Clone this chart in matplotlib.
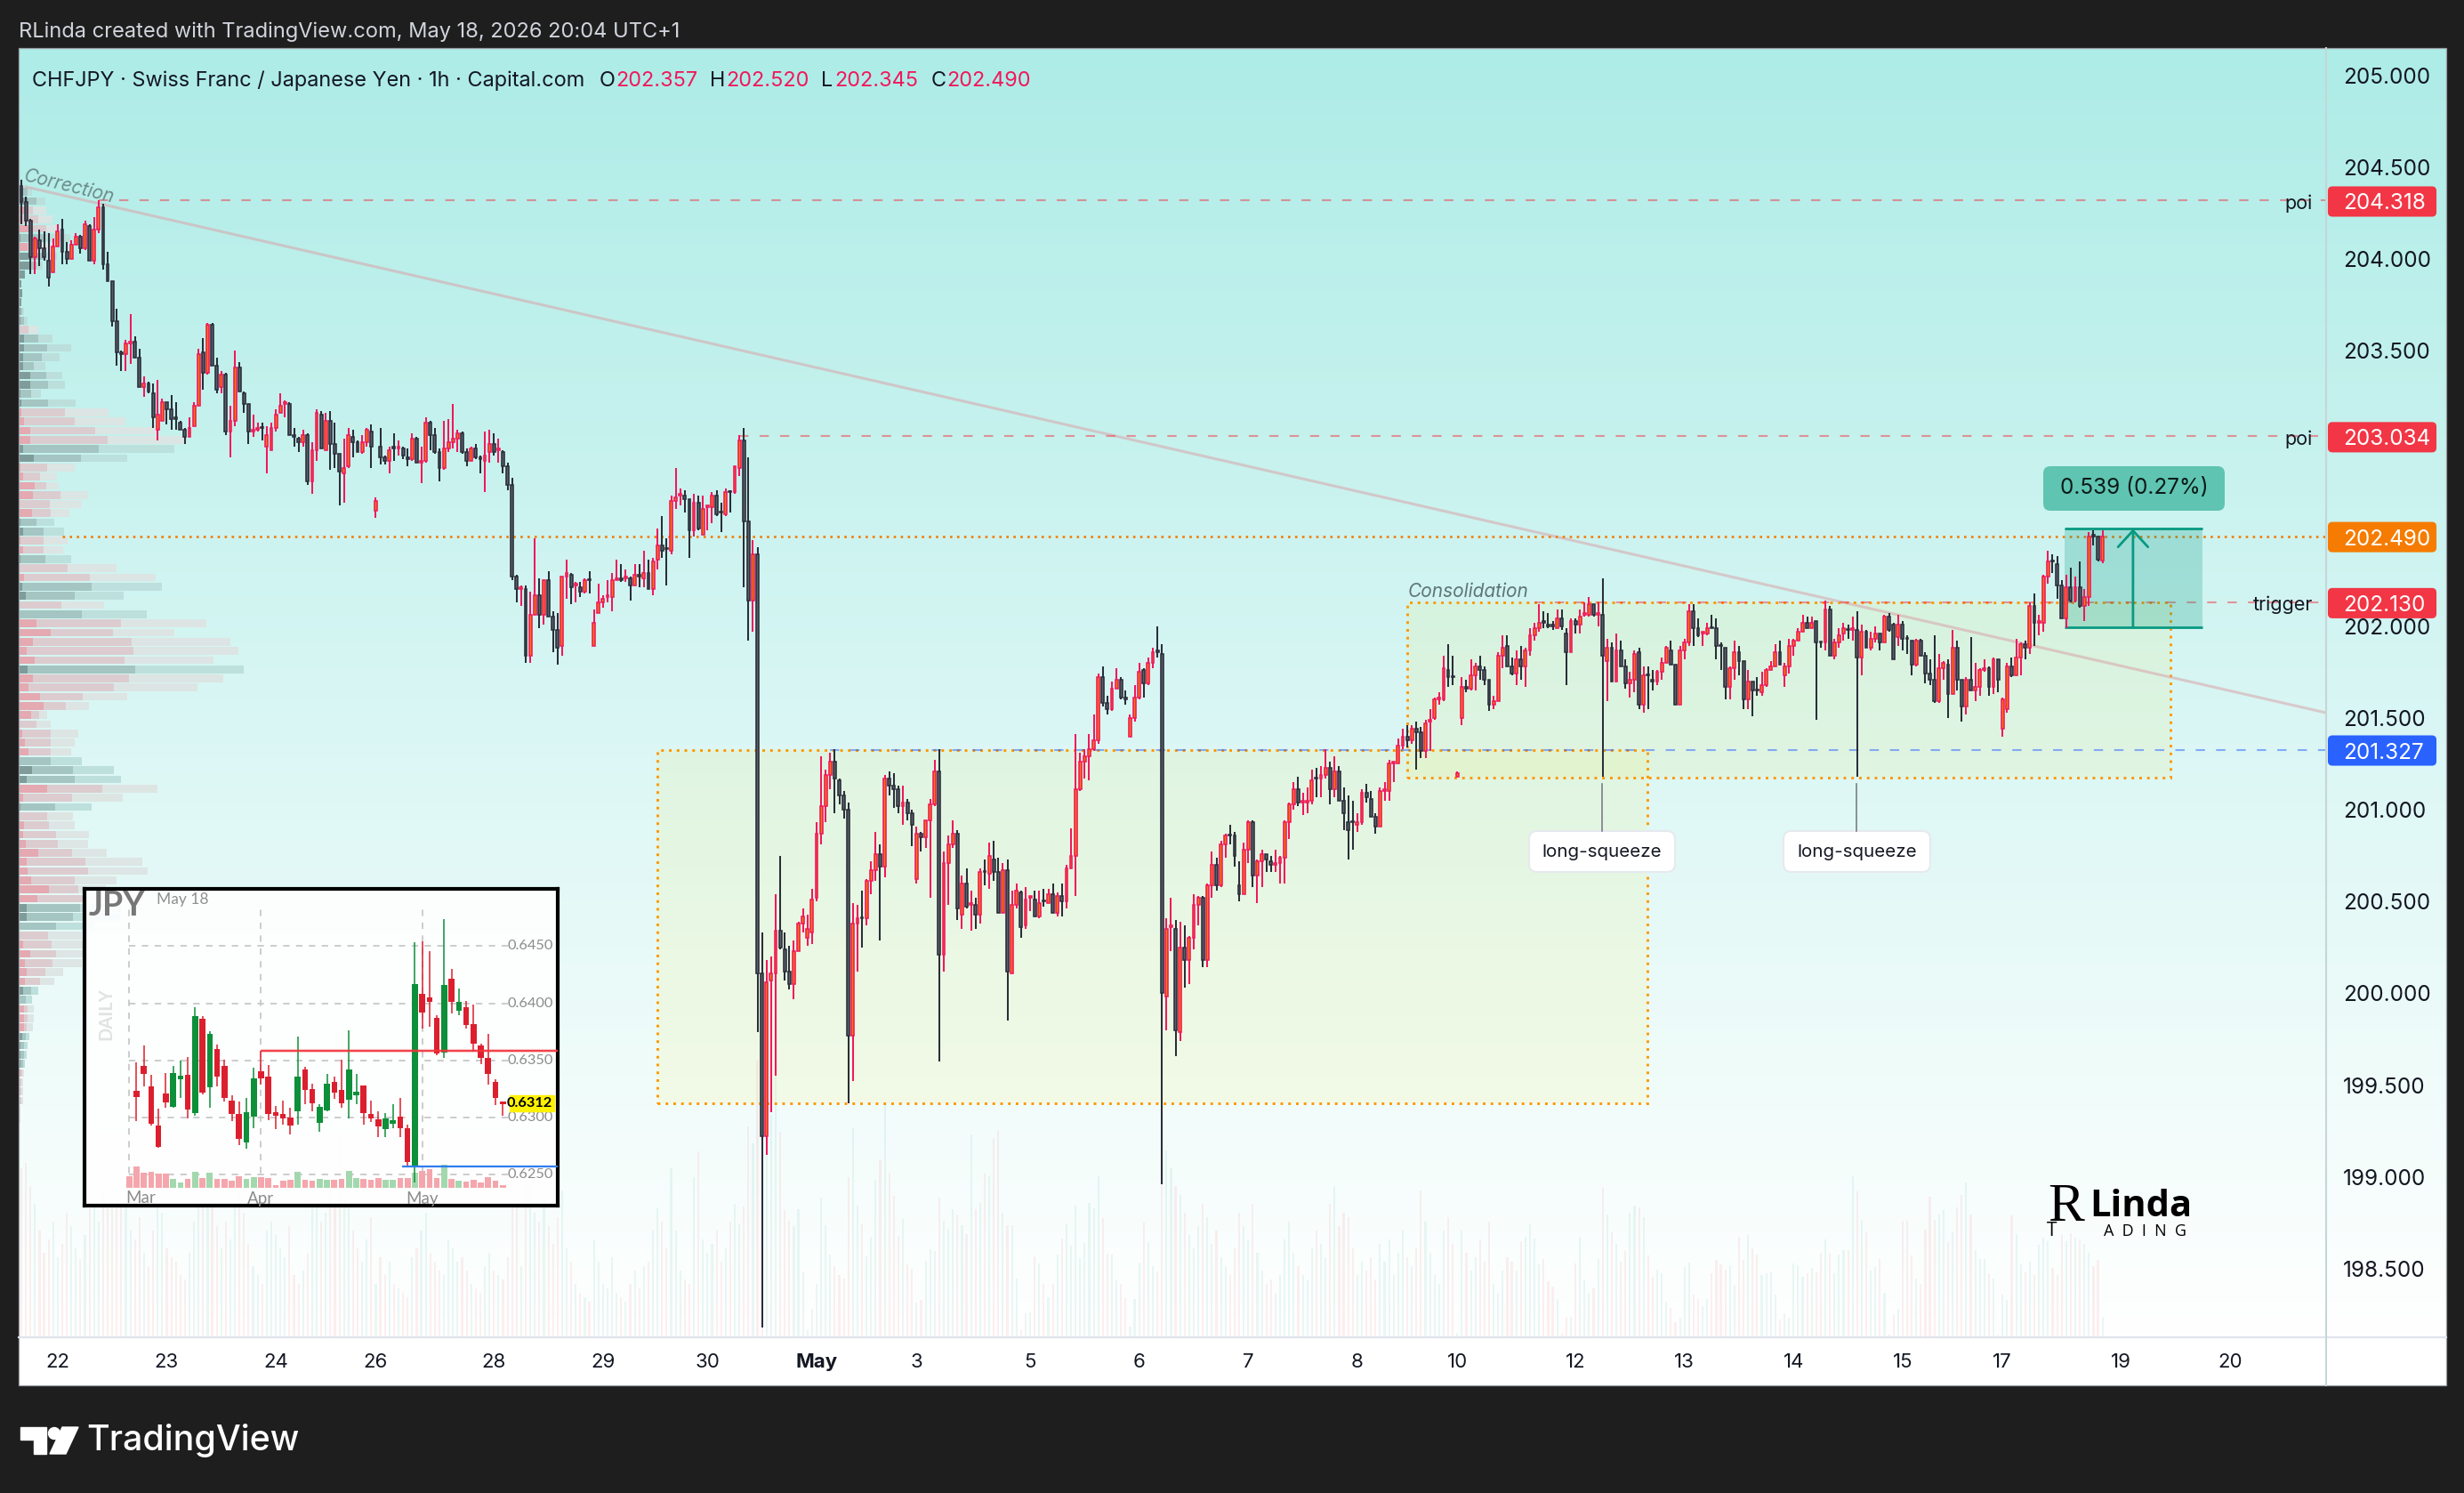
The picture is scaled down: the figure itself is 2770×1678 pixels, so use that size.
import numpy as np
import matplotlib
matplotlib.use('Agg')
import matplotlib.pyplot as plt
from matplotlib.colors import LinearSegmentedColormap
from matplotlib.patches import FancyBboxPatch, Rectangle, Polygon, Circle

W, H = 2770, 1678
plt.rcParams['font.family'] = ['Inter', 'DejaVu Sans']

# hourly candles
opens = [204.40,204.31,204.21,204.01,204.10,204.06,203.99,203.93,204.07,204.16,
204.04,204.00,204.08,204.12,204.06,204.18,203.99,204.16,204.28,203.97,
203.88,203.66,203.49,203.48,203.54,203.55,203.46,203.30,203.32,203.27,
203.07,203.12,203.22,203.18,203.13,203.11,203.07,203.03,203.09,203.20,
203.49,203.38,203.64,203.42,203.30,203.37,203.06,203.12,203.41,203.27,
203.21,203.06,203.07,203.08,202.98,202.96,203.08,203.16,203.21,203.21,
203.04,203.02,203.00,203.04,202.79,202.96,203.15,202.96,203.12,202.99,
202.94,202.83,202.87,203.03,203.00,202.95,203.00,203.06,202.63,202.98,
202.92,202.90,202.97,202.97,202.97,202.92,202.91,203.02,202.89,202.90,
203.11,203.04,202.95,202.86,202.97,203.00,203.02,203.05,202.95,202.90,
202.97,202.92,202.90,202.95,202.99,202.96,202.95,202.87,202.77,202.27,
202.20,202.20,201.84,202.06,202.17,202.06,202.25,202.05,201.98,201.89,
202.27,202.28,202.22,202.21,202.19,202.25,201.89,202.07,202.13,202.16,
202.16,202.25,202.26,202.26,202.26,202.22,202.28,202.26,202.29,202.20,
202.36,202.44,202.42,202.41,202.68,202.71,202.71,202.69,202.52,202.67,
202.50,202.65,202.65,202.71,202.62,202.61,202.73,202.73,202.86,203.01,
202.57,202.14,202.39,200.11,199.22,200.07,200.11,200.34,200.24,200.12,
200.05,200.23,200.38,200.30,200.33,200.52,200.87,201.02,201.19,201.26,
201.16,201.08,201.00,199.77,200.38,200.41,200.41,200.61,200.67,200.76,
200.69,201.17,201.13,201.11,201.02,201.04,200.98,200.62,200.87,200.85,
200.94,201.03,201.21,200.21,200.71,200.81,200.87,200.43,200.60,200.48,
200.48,200.43,200.66,200.65,200.73,200.66,200.44,200.67,200.11,200.48,
200.55,200.37,200.52,200.51,200.42,200.50,200.49,200.54,200.44,200.53,
200.50,200.68,200.75,201.11,201.26,201.29,201.33,201.38,201.72,201.58,
201.55,201.66,201.71,201.61,201.40,201.50,201.61,201.76,201.69,201.80,
201.86,201.85,199.98,200.36,200.35,199.79,200.25,200.18,200.30,200.48,
200.52,200.18,200.59,200.70,200.59,200.81,200.86,200.86,200.59,200.54,
200.78,200.93,200.64,200.72,200.76,200.72,200.70,200.71,200.74,200.93,
201.03,201.11,201.04,201.04,201.05,201.17,201.17,201.19,201.23,201.11,
201.21,201.05,200.93,200.93,200.92,200.93,201.09,201.06,200.96,200.91,
201.10,201.10,201.25,201.25,201.35,201.40,201.38,201.44,201.42,201.32,
201.48,201.50,201.60,201.60,201.76,201.72,201.18,201.50,201.67,201.66,
201.73,201.78,201.76,201.71,201.57,201.59,201.84,201.89,201.78,201.74,
201.82,201.78,201.87,201.95,201.99,202.02,202.00,202.00,201.99,202.04,
201.96,201.86,202.03,202.01,202.06,202.06,202.12,202.06,202.06,201.81,
201.88,201.70,201.87,201.78,201.69,201.71,201.86,201.57,201.73,201.71,
201.70,201.75,201.80,201.87,201.79,201.57,201.87,201.91,202.08,201.99,
201.96,201.96,201.99,201.99,201.89,201.88,201.67,201.77,201.86,201.81,
201.60,201.70,201.65,201.64,201.68,201.76,201.78,201.86,201.73,201.78,
201.89,201.92,201.97,202.02,201.99,202.03,201.91,201.91,202.09,201.84,
201.91,201.96,201.98,201.98,201.98,201.83,201.97,201.88,201.93,201.96,
201.91,202.05,202.01,201.94,202.01,201.93,201.92,201.79,201.92,201.84,
201.74,201.71,201.59,201.77,201.79,201.63,201.88,201.71,201.56,201.71,
201.65,201.67,201.76,201.77,201.67,201.82,201.44,201.55,201.78,201.73,
201.83,201.90,201.88,202.11,202.02,202.02,202.27,202.35,202.34,202.22,
202.04,202.21,202.14,202.21,202.11,202.16,202.49,202.49,202.357]

closes = [204.31,204.21,204.01,204.11,204.06,204.01,203.90,204.07,204.15,204.04,
204.00,204.08,204.12,204.06,204.19,203.99,204.16,204.28,203.97,203.88,
203.66,203.49,203.48,203.54,203.55,203.46,203.30,203.32,203.28,203.14,
203.15,203.22,203.18,203.13,203.13,203.07,203.03,203.08,203.20,203.48,
203.38,203.64,203.42,203.29,203.37,203.06,203.12,203.41,203.28,203.21,
203.06,203.07,203.08,203.08,203.04,203.08,203.15,203.20,203.22,203.04,
203.03,203.00,203.04,202.79,202.96,203.16,202.97,203.12,202.99,202.94,
202.84,202.86,203.04,203.00,202.95,203.00,203.07,202.98,202.68,202.92,
202.90,202.96,202.97,202.98,202.93,202.91,203.02,202.89,202.90,203.11,
203.04,202.95,202.86,202.97,203.00,203.02,203.05,202.95,202.90,202.97,
202.92,202.91,202.93,202.99,202.95,202.97,202.87,202.77,202.27,202.20,
202.21,201.84,202.06,202.17,202.06,202.25,202.05,201.98,201.88,202.27,
202.29,202.21,202.23,202.19,202.25,202.25,202.02,202.13,202.15,202.17,
202.25,202.26,202.25,202.27,202.22,202.28,202.27,202.29,202.20,202.35,
202.44,202.41,202.42,202.68,202.70,202.72,202.69,202.52,202.67,202.53,
202.64,202.66,202.71,202.61,202.62,202.73,202.73,202.87,203.01,202.57,
202.14,202.39,200.11,199.22,200.06,200.11,200.34,200.25,200.12,200.05,
200.23,200.38,200.42,200.35,200.51,200.87,201.02,201.19,201.26,201.17,
201.08,201.00,199.77,200.38,200.41,200.41,200.61,200.67,200.76,200.69,
201.17,201.13,201.11,201.02,201.04,200.98,200.92,200.87,200.85,200.94,
201.03,201.21,200.21,200.71,200.81,200.87,200.46,200.60,200.47,200.49,
200.43,200.66,200.66,200.75,200.66,200.44,200.67,200.12,200.48,200.56,
200.36,200.51,200.53,200.42,200.49,200.50,200.54,200.44,200.53,200.50,
200.68,200.75,201.11,201.26,201.29,201.33,201.38,201.72,201.58,201.55,
201.66,201.71,201.61,201.60,201.50,201.61,201.75,201.69,201.80,201.86,
201.86,200.00,200.35,200.37,199.80,200.25,200.18,200.30,200.48,200.52,
200.18,200.59,200.70,200.59,200.81,200.86,200.86,200.75,200.54,200.78,
200.93,200.64,200.72,200.76,200.73,200.70,200.71,200.74,200.93,201.03,
201.11,201.04,201.05,201.05,201.16,201.17,201.19,201.23,201.11,201.21,
201.05,200.98,200.89,200.93,200.93,201.09,201.07,200.96,200.91,201.10,
201.11,201.25,201.26,201.35,201.40,201.38,201.44,201.42,201.32,201.47,
201.49,201.60,201.61,201.77,201.72,201.72,201.20,201.67,201.66,201.73,
201.78,201.76,201.71,201.57,201.59,201.84,201.88,201.78,201.74,201.82,
201.78,201.87,201.95,201.99,202.02,202.02,202.00,202.00,202.04,202.00,
201.86,202.03,202.01,202.05,202.07,202.12,202.06,202.07,201.84,201.88,
201.70,201.87,201.78,201.69,201.71,201.85,201.57,201.73,201.73,201.70,
201.75,201.80,201.88,201.79,201.57,201.87,201.91,202.08,201.99,201.95,
201.97,201.99,201.99,201.89,201.89,201.67,201.77,201.86,201.81,201.60,
201.70,201.65,201.65,201.68,201.76,201.78,201.86,201.79,201.78,201.89,
201.92,201.97,202.02,201.99,202.02,201.91,201.91,202.09,201.84,201.91,
201.95,201.99,201.98,201.99,201.83,201.97,201.88,201.93,201.96,201.91,
202.05,201.98,201.82,202.01,201.93,201.93,201.79,201.92,201.84,201.74,
201.71,201.59,201.77,201.80,201.63,201.88,201.71,201.56,201.71,201.65,
201.67,201.76,201.77,201.67,201.82,201.71,201.60,201.78,201.73,201.83,
201.90,201.88,202.11,202.02,202.03,202.27,202.35,202.35,202.22,202.04,
202.21,202.14,202.21,202.11,202.16,202.49,202.49,202.36,202.49]

highs = [204.43,204.34,204.22,204.12,204.16,204.15,204.14,204.11,204.19,204.22,
204.09,204.10,204.14,204.13,204.21,204.19,204.23,204.32,204.30,204.04,
203.88,203.73,203.50,203.56,203.70,203.58,203.51,203.36,203.33,203.32,
203.34,203.24,203.22,203.26,203.22,203.12,203.08,203.14,203.22,203.51,
203.57,203.65,203.65,203.46,203.39,203.38,203.20,203.50,203.44,203.28,
203.21,203.15,203.11,203.11,203.09,203.11,203.18,203.27,203.23,203.22,
203.08,203.03,203.07,203.05,203.00,203.18,203.17,203.16,203.17,203.11,
202.94,203.02,203.08,203.07,203.01,203.04,203.08,203.10,202.70,203.08,
202.93,202.98,203.05,203.01,202.98,202.97,203.05,203.03,202.98,203.14,
203.12,203.08,202.97,203.12,203.13,203.21,203.07,203.06,202.97,202.98,
202.99,202.93,203.06,203.07,203.05,203.02,202.96,202.89,202.81,202.28,
202.22,202.22,202.19,202.48,202.26,202.25,202.30,202.08,202.07,202.27,
202.36,202.29,202.24,202.24,202.26,202.30,202.09,202.23,202.17,202.25,
202.29,202.36,202.34,202.31,202.27,202.34,202.34,202.41,202.36,202.37,
202.53,202.60,202.48,202.71,202.86,202.75,202.74,202.69,202.72,202.71,
202.71,202.66,202.73,202.74,202.67,202.75,202.74,202.87,203.04,203.08,
202.92,202.47,202.43,200.33,200.18,200.20,200.54,200.75,200.33,200.26,
200.29,200.39,200.46,200.43,200.57,200.93,201.29,201.22,201.31,201.33,
201.17,201.10,201.04,200.49,200.48,200.56,200.62,200.72,200.88,200.81,
201.19,201.21,201.20,201.13,201.13,201.06,201.00,200.91,200.88,200.94,
201.06,201.27,201.33,200.77,200.86,200.94,200.89,200.64,200.68,200.56,
200.52,200.68,200.73,200.82,200.83,200.74,200.71,200.73,200.56,200.60,
200.56,200.58,200.53,200.56,200.56,200.57,200.57,200.60,200.55,200.60,
200.70,200.90,201.41,201.31,201.33,201.41,201.52,201.74,201.78,201.62,
201.70,201.77,201.72,201.65,201.52,201.68,201.80,201.77,201.83,201.88,
202.00,201.90,200.41,200.52,200.40,200.39,200.37,200.31,200.54,200.53,
200.53,200.60,200.77,200.74,200.83,200.87,200.92,200.88,200.72,200.82,
200.94,200.94,200.73,200.78,200.76,200.75,200.78,200.75,200.94,201.04,
201.15,201.18,201.09,201.12,201.22,201.23,201.24,201.33,201.26,201.29,
201.24,201.12,201.08,201.05,200.98,201.11,201.14,201.10,200.98,201.12,
201.15,201.27,201.26,201.39,201.44,201.46,201.46,201.48,201.45,201.49,
201.55,201.61,201.64,201.84,201.90,201.84,201.21,201.72,201.71,201.82,
201.80,201.84,201.78,201.71,201.62,201.86,201.95,201.95,201.83,201.87,
201.89,201.88,201.99,202.02,202.12,202.08,202.07,202.03,202.09,202.09,
201.99,202.04,202.04,202.09,202.13,202.16,202.12,202.13,202.26,201.93,
201.91,201.96,201.92,201.82,201.75,201.87,201.88,201.78,201.78,201.76,
201.76,201.83,201.89,201.92,201.79,201.89,201.93,202.12,202.12,202.04,
201.97,202.02,202.06,202.04,201.91,201.88,201.78,201.92,201.89,201.81,
201.76,201.70,201.72,201.75,201.77,201.81,201.90,201.92,201.80,201.93,
201.93,201.99,202.06,202.05,202.05,202.03,201.91,202.14,202.11,201.93,
201.99,202.02,202.01,202.05,202.08,202.01,201.98,201.97,202.00,201.96,
202.06,202.07,202.02,202.06,202.03,201.95,201.92,201.93,201.93,201.86,
201.82,201.95,201.85,201.81,201.82,201.98,201.92,201.71,201.72,201.94,
201.80,201.77,201.82,201.78,201.83,201.82,201.61,201.80,201.83,201.93,
201.91,201.92,202.13,202.18,202.06,202.28,202.41,202.39,202.38,202.25,
202.28,202.32,202.27,202.35,202.20,202.51,202.52,202.49,202.52]

lows = [204.19,204.18,203.92,203.92,203.96,203.99,203.85,203.93,204.07,203.97,
203.97,204.00,204.08,204.03,204.05,203.99,203.97,204.14,203.94,203.88,
203.63,203.42,203.39,203.39,203.43,203.46,203.30,203.25,203.27,203.08,
203.01,203.12,203.10,203.07,203.07,203.07,202.99,203.03,203.09,203.20,
203.29,203.37,203.42,203.27,203.27,203.04,202.92,203.09,203.28,203.16,
202.99,203.03,203.06,203.01,202.83,202.96,203.06,203.16,203.14,203.04,
202.98,202.95,202.98,202.77,202.72,202.90,202.97,202.96,202.85,202.86,
202.66,202.67,202.86,202.92,202.95,202.94,202.98,202.86,202.59,202.88,
202.88,202.83,202.90,202.93,202.91,202.87,202.90,202.89,202.78,202.89,
202.96,202.94,202.79,202.85,202.95,202.97,202.95,202.94,202.87,202.90,
202.91,202.83,202.73,202.89,202.93,202.89,202.83,202.74,202.25,202.13,
202.11,201.80,201.80,202.06,201.99,202.01,202.05,201.86,201.79,201.84,
202.15,202.12,202.13,202.16,202.18,202.18,201.89,202.07,202.10,202.13,
202.08,202.25,202.24,202.24,202.14,202.22,202.21,202.21,202.20,202.17,
202.31,202.37,202.22,202.39,202.64,202.66,202.62,202.37,202.49,202.52,
202.50,202.52,202.56,202.60,202.51,202.60,202.62,202.72,202.82,202.21,
201.92,201.97,199.79,198.18,199.12,199.35,199.55,200.24,200.07,200.02,
199.97,200.23,200.33,200.26,200.27,200.50,200.81,200.93,201.11,200.98,
201.03,200.95,199.40,199.52,200.12,200.25,200.37,200.54,200.61,200.29,
200.63,201.08,201.01,200.98,200.92,200.94,200.80,200.60,200.77,200.79,
200.52,201.02,199.63,200.12,200.48,200.79,200.40,200.35,200.46,200.34,
200.35,200.38,200.59,200.57,200.61,200.44,200.44,199.85,200.11,200.46,
200.30,200.35,200.45,200.42,200.41,200.47,200.49,200.44,200.42,200.42,
200.46,200.68,200.53,201.10,201.17,201.16,201.32,201.36,201.56,201.52,
201.54,201.66,201.60,201.57,201.40,201.48,201.60,201.61,201.68,201.77,
201.83,198.96,199.80,200.23,199.66,199.74,200.03,200.05,200.24,200.37,
200.14,200.14,200.52,200.56,200.58,200.74,200.81,200.69,200.50,200.54,
200.71,200.58,200.49,200.58,200.66,200.66,200.66,200.60,200.60,200.84,
201.00,201.02,200.97,200.98,201.03,201.07,201.07,201.17,201.03,201.07,
201.05,200.89,200.73,200.78,200.88,200.92,201.04,200.96,200.87,200.91,
201.05,201.05,201.15,201.25,201.33,201.34,201.36,201.22,201.28,201.28,
201.32,201.49,201.57,201.59,201.67,201.68,201.18,201.46,201.64,201.65,
201.65,201.71,201.68,201.54,201.55,201.59,201.77,201.78,201.73,201.68,
201.71,201.67,201.84,201.92,201.97,201.99,201.99,201.98,201.99,201.98,
201.68,201.86,201.96,201.96,202.05,202.05,202.05,202.00,201.18,201.59,
201.70,201.70,201.78,201.66,201.61,201.64,201.55,201.53,201.55,201.65,
201.68,201.71,201.80,201.79,201.57,201.57,201.82,201.89,201.89,201.94,
201.89,201.95,201.99,201.82,201.76,201.60,201.60,201.71,201.73,201.55,
201.55,201.51,201.62,201.62,201.67,201.76,201.78,201.79,201.67,201.74,
201.84,201.92,201.97,201.99,201.99,201.49,201.88,201.87,201.84,201.82,
201.88,201.92,201.93,201.92,201.18,201.73,201.88,201.87,201.91,201.87,
201.91,201.97,201.82,201.89,201.87,201.85,201.73,201.78,201.84,201.69,
201.68,201.58,201.58,201.71,201.50,201.63,201.65,201.48,201.52,201.65,
201.59,201.62,201.75,201.62,201.63,201.64,201.40,201.53,201.72,201.73,
201.73,201.82,201.85,201.89,201.95,201.97,202.23,202.29,202.15,202.04,
201.99,202.13,202.13,202.10,202.03,202.11,202.44,202.35,202.345]

volumes = [190,196,170,150,120,95,110,130,90,105,
140,125,100,88,115,145,160,130,170,145,
190,196,150,170,120,110,135,95,80,120,
165,140,100,90,85,70,65,95,130,160,
150,170,155,125,100,130,110,150,175,140,
105,80,70,60,120,130,115,100,90,125,
70,60,75,95,150,165,130,140,175,150,
224,170,145,120,100,85,110,135,60,90,
70,85,60,55,50,45,90,100,120,140,
95,85,75,70,110,100,85,90,75,60,
55,50,80,95,75,70,65,90,150,160,
80,195,175,140,130,155,125,105,135,165,
100,85,60,50,45,40,110,85,60,55,
90,50,45,40,60,75,55,80,85,120,
145,130,100,190,120,75,65,60,180,209,
110,95,105,120,85,100,130,150,
127,147,237,218,311,300,204,250,294,231,
143,131,125,144,73,8,32,60,157,126,
93,80,70,66,180,235,148,127,91,113,
177,199,262,185,159,114,133,82,77,39,
42,86,99,97,157,131,122,144,138,126,
116,228,144,151,184,181,223,233,140,126,
126,66,8,27,28,91,83,60,45,60,
93,111,127,103,148,89,106,151,145,182,
134,94,93,64,60,45,12,43,84,129,
107,80,74,172,
210,190,170,160,140,115,100,125,150,135,
105,120,90,80,70,100,140,125,110,150,
95,75,60,65,50,70,110,130,95,80,
70,65,100,120,105,90,150,170,125,140,
135,100,70,85,75,90,65,105,85,110,
70,95,120,90,80,100,165,130,95,70,
60,120,135,105,5,120,95,75,90,110,
85,130,60,50,75,90,
85,75,108,113,127,111,82,88,63,57,
43,5,23,23,83,113,65,50,55,88,
168,138,118,105,85,97,140,148,146,135,
92,68,76,72,40,33,17,22,79,84,
48,43,35,43,72,87,82,76,81,59,
113,87,115,100,93,70,72,73,48,20,
27,22,83,81,68,72,78,73,95,110,
95,72,93,98,98,182,164,132,118,75,
79,88,50,3,25,32,131,131,92,66,
60,121,158,132,138,143,107,118,146,160,
174,138,98,88,88,72,66,3,48,42,
137,116,82,73,85,70,104,112,108,78,
70,115,108,117,112,110,105,95,80,87,23]

# volume profile on the left: t = teal row, p = pink row, widths are cumulative
vp_kind = ('ttppptpttttttttptttttttt' 'pppptt' 'pppppptt' 'pptpptt' 'ptppppp' 'tppppppppp' 'ttt' 'pp' 't'
           'pppppppppp' 'ttt' 'pppppp' 'tt' 'ppp' 'tttt' 'pppppppp')
vp_inner = [5,10,7,2,12,2,10,13,12,7,3,4,3,2,2,1,6,6,5,5,13,13,2,3,3,6,13,13,5,17,2,5,18,16,1,15,2,5,
2,5,2,1,6,4,8,1,1,20,36,16,9,18,10,16,11,24,28,14,1,4,7,11,1,15,9,32,5,2,1,6,5,8,22,9,10,14,34,21,9,9,1,1,5,13,7,9,7,5,1,6,6,6,4,2,2,2,2,1,1,1,1,1,1,1]
vp_mid = [10,20,16,22,31,30,25,30,20,7,3,4,3,4,6,11,22,32,26,17,31,33,14,33,52,63,86,100,90,70,32,24,31,47,35,36,20,28,
28,28,30,55,80,82,63,48,71,115,106,127,129,119,131,124,107,72,53,23,20,36,36,36,36,61,63,94,60,41,32,34,42,44,60,75,78,63,67,74,69,61,42,33,37,42,38,30,24,14,8,10,10,9,8,6,6,5,4,3,3,3,1,1,1,1]
vp_outer = [15,30,31,38,45,58,42,43,27,7,3,4,3,6,10,22,38,59,46,30,49,52,25,64,101,120,157,187,175,122,63,43,45,78,71,57,40,51,
55,50,59,110,154,161,118,96,144,211,175,238,247,219,253,230,201,122,79,32,36,67,63,59,71,107,115,156,117,82,61,63,79,78,99,139,145,110,98,140,115,114,84,71,74,74,71,50,40,22,15,17,17,16,12,10,9,7,6,5,5,5,2,2,1,1]

# day labels under the chart
day_pos = [8,32,56,78,104,128,151,175,197,222,246,270,294,316,342,366,390,414,436,462,486]
day_labels = ['22','23','24','26','28','29','30','May','3','5','6','7','8','10','12','13','14','15','17','19','20']
price_ticks = [198.5,199.0,199.5,200.0,200.5,201.0,201.5,202.0,203.5,204.0,204.5,205.0]

# key levels
poi_upper = 204.318
poi_lower = 203.034
last_price = 202.490
trigger = 202.130
support = 201.327

# daily JPY inset
d_open = [.63232,.63452,.63271,.62930,.63212,.63095,.63338,.63375,.63038,.63861,.63266,.63602,.63452,.63150,.63033,.62780,.63005,.63406,.63362,.63046,.63033,.63002,.63059,.63419,.63253,.62953,.63064,.63310,.63245,.63155,.63199,.63282,.63033,.62987,.62899,.62948,.63007,.62909,.62583,.64078,.64052,.63874,.63566,.64213,.63936,.63962,.63814,.63633,.63522,.63315,.63142]
d_close = [.63178,.63382,.62945,.62741,.63134,.63393,.63367,.63069,.63887,.63219,.63732,.63357,.63173,.63031,.62818,.63051,.63344,.63344,.63031,.63018,.62992,.62930,.63362,.63238,.63124,.63095,.63297,.63219,.63124,.63419,.63227,.63038,.62992,.62922,.62994,.62974,.62904,.62611,.64166,.63915,.64011,.63561,.64161,.64014,.64014,.63807,.63646,.63522,.63385,.63168,.63116]
d_high = [.63483,.63633,.63375,.63082,.63388,.63452,.63496,.63530,.63965,.63889,.63752,.63639,.63509,.63199,.63137,.63175,.63439,.63582,.63457,.63103,.63150,.63085,.63711,.63444,.63297,.63116,.63385,.63362,.63504,.63763,.63382,.63282,.63150,.63056,.63038,.63116,.63168,.62940,.64531,.64544,.64456,.63892,.64735,.64303,.64125,.64016,.63990,.63646,.63732,.63336,.63142]
d_low = [.62973,.63271,.62930,.62733,.63085,.63085,.63175,.62992,.63018,.63201,.63085,.63276,.63137,.62973,.62759,.62728,.62904,.63292,.62979,.62901,.62935,.62852,.62935,.63116,.63059,.62875,.63059,.63163,.63085,.62992,.63116,.62935,.62961,.62831,.62831,.62909,.62831,.62573,.62430,.63781,.63794,.63543,.63525,.63913,.63897,.63781,.63576,.63465,.63292,.63111,.63018]
d_vol = [40,72,50,55,47,47,30,19,30,55,32,52,30,30,25,40,30,37,37,32,8,24,27,55,28,24,30,26,27,30,57,32,30,28,32,27,27,34,32,50,57,62,32,79,29,24,20,26,17,35,24,10]
d_prices = [0.6250,0.6300,0.6350,0.6400,0.6450]
d_lines = [0.63585,0.62575]


def rect(x0, y0, x1, y1):
    return [x0 / W, 1 - y1 / H, (x1 - x0) / W, (y1 - y0) / H]


fig = plt.figure(figsize=(W / 100, H / 100), dpi=100, facecolor='#1e1e1e')

# gradient backdrop
ax_bg = fig.add_axes(rect(21, 54, 2750, 1503))
grad = LinearSegmentedColormap.from_list('bg', [(0, '#aeece7'), (0.3, '#c6f2ee'), (0.55, '#dcf7f5'), (0.8, '#f0fcfa'), (1, '#ffffff')])
ax_bg.imshow(np.linspace(0, 1, 256).reshape(-1, 1), aspect='auto', cmap=grad, vmin=0, vmax=1)
ax_bg.axis('off')

X0, X1 = -0.587, 507.2
Y0, Y1 = 198.126, 205.149
rect_main = rect(21, 54, 2615, 1503)

# volume bars
n = len(closes)
xs = np.arange(n)
o, c, h, l = map(np.array, (opens, closes, highs, lows))
up = c > o
ax_vol = fig.add_axes(rect_main, facecolor='none', zorder=1)
ax_vol.bar(xs[up], np.array(volumes)[up], width=0.42, color='#089981', alpha=0.08)
ax_vol.bar(xs[~up], np.array(volumes)[~up], width=0.42, color='#f23645', alpha=0.08)
ax_vol.set_xlim(X0, X1)
ax_vol.set_ylim(0, 1449)
ax_vol.axis('off')

# volume profile
ax_vp = fig.add_axes(rect_main, facecolor='none', zorder=2)
vp_y = 204.365 - 0.05 * np.arange(len(vp_inner))
kinds = np.array(list(vp_kind))
for kind, cols in (('t', ('#bcdfdb', '#a3c4c1', '#7d9a98')), ('p', ('#dde5e3', '#dccbce', '#e5a8b0'))):
    m = kinds == kind
    ax_vp.barh(vp_y[m], np.array(vp_outer)[m], height=0.042, color=cols[0], alpha=0.95)
    ax_vp.barh(vp_y[m], np.array(vp_mid)[m], height=0.042, color=cols[1], alpha=0.95)
    ax_vp.barh(vp_y[m], np.array(vp_inner)[m], height=0.042, color=cols[2], alpha=0.95)
ax_vp.set_xlim(0, 2594)
ax_vp.set_ylim(Y0, Y1)
ax_vp.axis('off')

# main price pane
ax = fig.add_axes(rect_main, facecolor='none', zorder=3)
ax.set_xlim(X0, X1)
ax.set_ylim(Y0, Y1)

# zones
ax.add_patch(Rectangle((140, 199.40), 217.8, support - 199.40, facecolor='#ffeb3b', alpha=0.1, zorder=1))
ax.add_patch(Rectangle((305, 201.175), 168, trigger - 201.175, facecolor='#ffeb3b', alpha=0.1, zorder=1))
dots = (0, (1, 2))
for x0, wd, y0, y1 in ((140, 217.8, 199.40, support), (305, 168, 201.175, trigger)):
    ax.add_patch(Rectangle((x0, y0), wd, y1 - y0, fill=False, edgecolor='#ff9800', lw=2.1, ls=dots, zorder=1.5))

# levels and trend line
dash = (0, (5, 6))
ax.plot([1, X1], [204.393, 201.528], color='#d9a4a9', alpha=0.55, lw=2.2, zorder=2)
ax.hlines(poi_upper, 17, X1, color='#f23645', alpha=0.5, lw=1.5, ls=dash, zorder=2)
ax.hlines(poi_lower, 158, X1, color='#f23645', alpha=0.5, lw=1.5, ls=dash, zorder=2)
ax.hlines(trigger, 333, X1, color='#f23645', alpha=0.5, lw=1.5, ls=dash, zorder=2)
ax.hlines(support, 178, X1, color='#2962ff', alpha=0.5, lw=1.5, ls=dash, zorder=1.8)
ax.hlines(last_price, 9, X1, color='#f57c00', lw=1.9, ls=dots, zorder=2)

# measure box
ax.add_patch(Rectangle((449.7, 201.994), 30.3, 0.536, facecolor='#089981', alpha=0.24, zorder=2.2))
ax.hlines([201.994, 202.53], 449.7, 480, color='#089981', lw=2, zorder=2.3)
ax.annotate('', xy=(464.7, 202.53), xytext=(464.7, 201.994),
            arrowprops=dict(arrowstyle='->,head_width=0.55,head_length=0.6', color='#089981', lw=2, shrinkA=0, shrinkB=0, mutation_scale=22), zorder=2.3)

# candles
ax.vlines(xs[up], l[up], h[up], color='#f0185c', lw=1.45, zorder=3)
ax.vlines(xs[~up], l[~up], h[~up], color='#2a2e39', lw=1.45, zorder=3)
tops = np.maximum(o, c)
bots = np.minimum(o, c)
sizes = np.maximum(tops - bots, 0.006)
ax.bar(xs[up], sizes[up], bottom=bots[up], width=0.56, color='#f57c00', edgecolor='#f0185c', lw=1.15, zorder=3.2)
ax.bar(xs[~up], sizes[~up], bottom=bots[~up], width=0.56, color='#5d606b', edgecolor='#2a2e39', lw=1.15, zorder=3.1)

ax.set_xticks(day_pos)
ax.set_xticklabels(day_labels, fontsize=16, color='#131722')
ax.get_xticklabels()[day_labels.index('May')].set_fontweight('bold')
ax.set_yticks(price_ticks)
ax.set_yticklabels(['%.3f' % p for p in price_ticks], fontsize=17.5, color='#131722')
ax.yaxis.tick_right()
ax.tick_params(axis='x', length=0, pad=13)
ax.tick_params(axis='y', length=0, pad=13.5)
for s in ax.spines.values():
    s.set_visible(False)

# overlay in pixel coordinates for labels and frame bits
ov = fig.add_axes([0, 0, 1, 1], facecolor='none', zorder=6)
ov.set_xlim(0, W)
ov.set_ylim(H, 0)
ov.axis('off')

# time axis strip, drawn underneath the tick labels
ax_time = fig.add_axes(rect(21, 1503, 2750, 1557), facecolor='white', zorder=0.5)
ax_time.set_xticks([])
ax_time.set_yticks([])
for s in ax_time.spines.values():
    s.set_visible(False)
ov.plot([21, 2750], [1503, 1503], color='#e0e3eb', lw=1.5)
ov.plot([2615, 2615], [54, 1557], color='#c6d6d6', lw=1.5)
ov.add_patch(Rectangle((21, 54), 2729, 1503, fill=False, edgecolor='#9a9ea3', lw=0.9))

ov.text(21, 36, 'RLinda created with TradingView.com, May 18, 2026 20:04 UTC+1', color='#d1d4dc', fontsize=17, va='center')
ov.text(36, 91, 'CHFJPY · Swiss Franc / Japanese Yen · 1h · Capital.com', color='#131722', fontsize=16.9, va='center')
for lx, lab, vx, val in ((674, 'O', 692, '202.357'), (798, 'H', 816, '202.520'), (923, 'L', 938, '202.345'), (1047, 'C', 1064, '202.490')):
    ov.text(lx, 91, lab, color='#131722', fontsize=16.9, va='center')
    ov.text(vx, 91, val, color='#f0185c', fontsize=16.9, va='center')

# price tags
for val, col in ((poi_upper, '#f23645'), (poi_lower, '#f23645'), (last_price, '#f57c00'), (trigger, '#f23645'), (support, '#2962ff')):
    yy = 85.8 + (205 - val) * 206.3
    ov.add_patch(FancyBboxPatch((2618, yy - 16), 120, 32, boxstyle='round,pad=0,rounding_size=4', facecolor=col, edgecolor=col, lw=1.5))
    ov.text(2634, yy, '%.3f' % val, color='white', fontsize=17.5, va='center_baseline')

for txt, val in (('poi', poi_upper), ('poi', poi_lower), ('trigger', trigger)):
    yy = 85.8 + (205 - val) * 206.3
    ov.text(2600, yy + 2, txt, color='#131722', fontsize=15.5, ha='right', va='center')

ov.text(27, 197, 'Correction', color='#6d8c8a', fontsize=15, style='italic', rotation=-14, rotation_mode='anchor', va='center')
ov.text(1583, 665, 'Consolidation', color='#5f7675', fontsize=15, style='italic', va='center')

# long-squeeze callouts
for cx, x0, x1 in ((1800.5, 1719, 1883), (2087, 2005, 2170)):
    ov.plot([cx, cx], [881, 934], color='#7b7f88', lw=1.2)
    ov.add_patch(FancyBboxPatch((x0, 934), x1 - x0, 46, boxstyle='round,pad=0,rounding_size=9', facecolor='white', edgecolor='#e6e9ee', lw=1.5))
    ov.text((x0 + x1) / 2, 958, 'long-squeeze', color='#131722', fontsize=14.8, ha='center', va='center')

# measure label
ov.add_patch(FancyBboxPatch((2297, 524), 204, 50, boxstyle='round,pad=0,rounding_size=8', facecolor='#5fc4b1', edgecolor='none'))
ov.text(2399, 549, '0.539 (0.27%)', color='#0b1a18', fontsize=17.5, ha='center', va='center')

# RLinda watermark
ov.text(2302, 1372, 'R', color='black', fontsize=44, family='Liberation Serif', va='baseline')
ov.text(2349, 1367, 'Linda', color='black', fontsize=30, family='Open Sans', weight='bold', va='baseline')
ov.text(2301, 1389, 'T', color='black', fontsize=15, family='Open Sans', va='baseline')
ov.text(2365, 1389, 'A  D  I  N  G', color='black', fontsize=13, family='Open Sans', va='baseline')

# footer logo
ov.add_patch(Polygon([(23, 1604), (52, 1604), (52, 1634), (38, 1634), (38, 1618), (23, 1618)], color='white'))
ov.add_patch(Circle((61, 1611), 6.5, color='white'))
ov.add_patch(Polygon([(70, 1604), (88, 1604), (74, 1634), (56, 1634)], color='white'))
ov.text(97, 1619, 'TradingView', color='white', fontsize=28.3, weight='medium', va='center')

# JPY inset
ibox = (95, 999, 627, 1355)
ax_in_bg = fig.add_axes(rect(*ibox), facecolor=(1, 1, 1, 0.92), zorder=7)
ax_in_bg.set_xticks([])
ax_in_bg.set_yticks([])
for s in ax_in_bg.spines.values():
    s.set_linewidth(3)
    s.set_edgecolor('black')

ixl, ixr = -7.1, 57.5
iyt = 0.645 + (205 - 12) / 38650
iyb = 0.625 - (1082 - 978) / 38650
ax_in = fig.add_axes(rect(*ibox), facecolor='none', zorder=8)
ax_in.set_xlim(ixl, ixr)
ax_in.set_ylim(iyb, iyt)
ax_in.axis('off')
dx = np.arange(len(d_close))
do, dc, dh, dl = map(np.array, (d_open, d_close, d_high, d_low))
dup = dc > do
grey = '#c8c8c8'
ax_in.hlines(d_prices, -1.05, 50.8, color=grey, lw=1.3, ls=(0, (4, 4)))
ax_in.vlines([-1.05, 17, 39], 0.62405, 0.6482, color=grey, lw=1.3, ls=(0, (4, 4)))
for dp in d_prices:
    ax_in.text(56.9, dp, '%.4f' % dp, color='#8b8b8b', fontsize=11.8, ha='right', va='center', family='Lato')
# volumes inside the inset
ax_iv = fig.add_axes(rect(*ibox), facecolor='none', zorder=8)
ax_iv.set_xlim(ixl, ixr)
ax_iv.set_ylim(-60, 1010)
ax_iv.axis('off')
vx = np.arange(-1, len(d_close))
vup = np.r_[False, dup]
ax_iv.bar(vx[vup], np.array(d_vol)[vup], width=0.82, color='#a3d8ae')
ax_iv.bar(vx[~vup], np.array(d_vol)[~vup], width=0.82, color='#f4a6ac')

ax_in2 = fig.add_axes(rect(*ibox), facecolor='none', zorder=9)
ax_in2.set_xlim(ixl, ixr)
ax_in2.set_ylim(iyb, iyt)
ax_in2.axis('off')
ax_in2.vlines(dx[dup], dl[dup], dh[dup], color='#0e8f3a', lw=1.1)
ax_in2.vlines(dx[~dup], dl[~dup], dh[~dup], color='#dc1f2e', lw=1.1)
ax_in2.bar(dx[dup], np.abs(dc - do)[dup], bottom=do[dup], width=0.8, color='#0e8f3a')
ax_in2.bar(dx[~dup], np.abs(dc - do)[~dup], bottom=dc[~dup], width=0.8, color='#dc1f2e')
ax_in2.hlines(d_lines[0], 17, ixr, color='#f2343a', lw=1.3, zorder=5)
ax_in2.hlines(d_lines[0], 17, ixr, color='#f2343a', lw=3, alpha=0.25, zorder=5)
ax_in2.vlines(17, d_high[17], d_lines[0], color='#f2343a', lw=1.1)
ax_in2.hlines(d_lines[1], 36.3, ixr, color='#2f7df0', lw=1.6, zorder=5)

ax_lab = fig.add_axes([0, 0, 1, 1], facecolor='none', zorder=10)
ax_lab.set_xlim(0, W)
ax_lab.set_ylim(H, 0)
ax_lab.axis('off')
ax_lab.text(100, 1018, 'JPY', color='#777777', fontsize=27, weight='bold', family='Lato', va='center')
ax_lab.text(176, 1011, 'May 18', color='#8f8f8f', fontsize=12.5, family='Lato', va='center')
ax_lab.text(119, 1140, 'DAILY', color='#e2e2e2', fontsize=14.5, weight='bold', family='Lato', rotation=90, ha='center', va='center')
for tx, tl in ((158, 'Mar'), (293, 'Apr'), (475, 'May')):
    ax_lab.text(tx, 1347, tl, color='#8b8b8b', fontsize=13.5, family='Lato', ha='center', va='center')
ax_lab.add_patch(Rectangle((573, 1231), 50, 18, color='#fff200'))
ax_lab.text(621, 1240, '0.6312', color='black', fontsize=11.8, family='Lato', ha='right', va='center', weight='bold')

fig.savefig('out.png', dpi=100, facecolor=fig.get_facecolor())
